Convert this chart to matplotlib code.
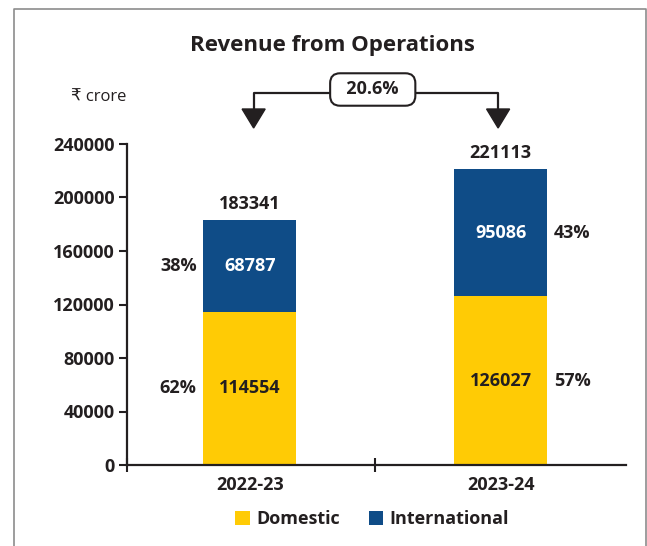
import numpy as np
import matplotlib
matplotlib.use("Agg")
import matplotlib.pyplot as plt
from matplotlib.patches import Patch, Polygon
from matplotlib.lines import Line2D
import matplotlib.transforms as mtransforms

plt.rcParams['font.family'] = ['Open Sans', 'DejaVu Sans']

# data
years = ['2022-23', '2023-24']
domestic = [114554, 126027]
international = [68787, 95086]
totals = [183341, 221113]
dom_pct = ['62%', '57%']
intl_pct = ['38%', '43%']
growth = '20.6%'
y_ticks = [0, 40000, 80000, 120000, 160000, 200000, 240000]

dark = '#231F20'
yellow = '#FFCB05'
blue = '#0F4C87'

fig = plt.figure(figsize=(6.47, 5.46), dpi=100)
ax = fig.add_axes([127 / 647, 1 - 465 / 546, (626 - 127) / 647, (465 - 144) / 546])

x = np.arange(len(years))
w = 0.37
ax.bar(x, domestic, w, color=yellow, zorder=2)
ax.bar(x, international, w, bottom=domestic, color=blue, zorder=2)

ax.set_xlim(-0.49, 1.5)
ax.set_ylim(0, 240000)

for sp in ['top', 'right']:
    ax.spines[sp].set_visible(False)
for sp in ['left', 'bottom']:
    ax.spines[sp].set_color(dark)
    ax.spines[sp].set_linewidth(1.6)

ax.set_yticks(y_ticks)
ax.set_yticklabels([str(v) for v in y_ticks])
ax.tick_params(axis='y', direction='out', length=6, width=1.5, color=dark,
               labelsize=13, labelcolor=dark, pad=3)
for lab in ax.get_yticklabels():
    lab.set_fontweight('bold')

# x axis: only the divider tick, labels as text
ax.set_xticks([-0.49, 0.5])
ax.set_xticklabels(['', ''])
ax.tick_params(axis='x', direction='inout', length=10, width=1.5, color=dark)
for i, yr in enumerate(years):
    ax.text(x[i], -0.035, yr, transform=ax.get_xaxis_transform(), ha='center', va='top',
            fontsize=13, fontweight='bold', color=dark)

for i in range(len(years)):
    # totals above the bars
    ax.annotate(str(totals[i]), xy=(x[i], totals[i]), xytext=(0, 5), textcoords='offset points',
                ha='center', va='bottom', fontsize=13, fontweight='bold', color=dark)
    # values inside segments
    ax.text(x[i], domestic[i] / 2, str(domestic[i]), ha='center', va='center',
            fontsize=13, fontweight='bold', color=dark, zorder=3)
    ax.text(x[i], domestic[i] + international[i] / 2, str(international[i]), ha='center', va='center',
            fontsize=13, fontweight='bold', color='white', zorder=3)

# percentage labels: left of first bar, right of second
ax.annotate(dom_pct[0], xy=(x[0] - w / 2, domestic[0] / 2), xytext=(-5, 0), textcoords='offset points',
            ha='right', va='center', fontsize=13, fontweight='bold', color=dark)
ax.annotate(intl_pct[0], xy=(x[0] - w / 2, domestic[0] + international[0] / 2), xytext=(-5, 0),
            textcoords='offset points', ha='right', va='center', fontsize=13, fontweight='bold', color=dark)
ax.annotate(dom_pct[1], xy=(x[1] + w / 2, domestic[1] / 2), xytext=(5, 0), textcoords='offset points',
            ha='left', va='center', fontsize=13, fontweight='bold', color=dark)
ax.annotate(intl_pct[1], xy=(x[1] + w / 2, domestic[1] + international[1] / 2), xytext=(5, 0),
            textcoords='offset points', ha='left', va='center', fontsize=13, fontweight='bold', color=dark)

# growth arrows (x in data, y in inches from bottom)
tr = mtransforms.blended_transform_factory(ax.transData, fig.dpi_scale_trans)
y_line = (546 - 93) / 100
y_head = (546 - 109) / 100
y_tip = (546 - 128) / 100
hw = 0.046
xa = [x[0] + 0.015, x[1] - 0.01]
ax.add_line(Line2D([xa[0], xa[0], xa[1], xa[1]], [y_head, y_line, y_line, y_head],
                   transform=tr, color=dark, lw=1.6, clip_on=False))
for xx in xa:
    ax.add_patch(Polygon([[xx - hw, y_head], [xx + hw, y_head], [xx, y_tip]], closed=True,
                         transform=tr, facecolor=dark, edgecolor=dark, clip_on=False))
ax.text(0.49, (546 - 89.5) / 100, '  ' + growth + '  ', transform=tr, ha='center', va='center',
        fontsize=13, fontweight='bold', color=dark, clip_on=False,
        bbox=dict(boxstyle='round,pad=0.4,rounding_size=0.55', facecolor='white',
                  edgecolor=dark, linewidth=1.5))

fig.text(332 / 647, 1 - 45 / 546, 'Revenue from Operations', ha='center', va='center',
         fontsize=16, fontweight='bold', color=dark)
fig.text(126 / 647, 1 - 97 / 546, '₹ crore', ha='right', va='center', fontsize=12, color=dark)

handles = [Patch(facecolor=yellow, label='Domestic'), Patch(facecolor=blue, label='International')]
fig.legend(handles=handles, loc='center', bbox_to_anchor=(372 / 647, 1 - 519 / 546), ncol=2,
           frameon=False, handlelength=0.8, handleheight=0.8, handletextpad=0.35,
           columnspacing=1.6, prop={'weight': 'bold', 'size': 13}, labelcolor=dark)

# frame around the chart
frame = Line2D([14 / 647, 14 / 647, 645.5 / 647, 645.5 / 647], [0, 1 - 9 / 546, 1 - 9 / 546, 0],
               transform=fig.transFigure, color='#8C8C8C', lw=1.2)
fig.lines.append(frame)

fig.savefig('out.png', dpi=100)
